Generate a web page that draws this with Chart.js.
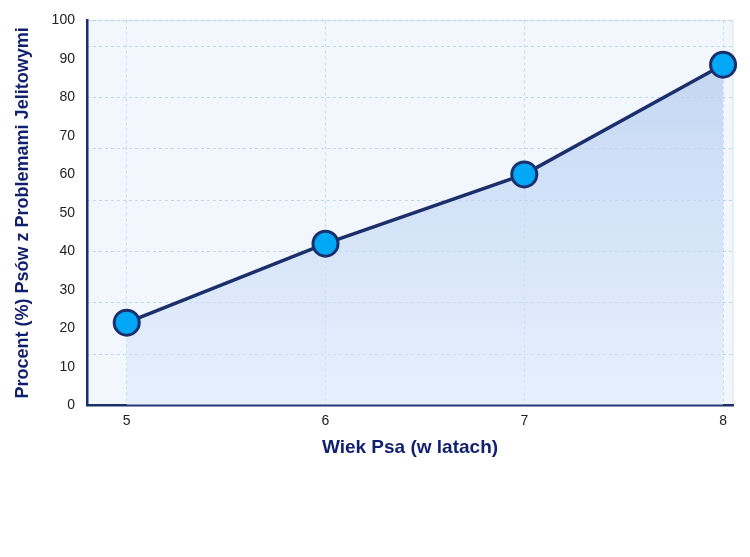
<!DOCTYPE html>
<html>
<head>
<meta charset="utf-8">
<script src="https://cdn.jsdelivr.net/npm/chart.js@4"></script>
<style>
  html, body { margin: 0; padding: 0; background: #fff; }
  #wrap { width: 750px; height: 557px; }
</style>
</head>
<body>
<div id="wrap"><canvas id="dogChart" width="750" height="557"></canvas></div>
<script>
// wiek psa (lata) i odsetek psów z problemami jelitowymi
const ages = [5, 6, 7, 8];
const percents = [21.5, 42, 60, 88.5];
const yTicks = [0, 10, 20, 30, 40, 50, 60, 70, 80, 90, 100];

const navy = '#1b2f6b';
const titleNavy = '#101f6e';

// tło obszaru wykresu
const plotBg = {
    id: 'plotBg',
    beforeDraw(chart) {
        const { ctx, chartArea: a } = chart;
        ctx.save();
        ctx.fillStyle = '#f2f7fe';
        ctx.fillRect(a.left, a.top, a.right - a.left, a.bottom - a.top);
        ctx.strokeStyle = '#e4ebee';
        ctx.lineWidth = 1.5;
        ctx.beginPath();
        ctx.moveTo(a.left, a.top);
        ctx.lineTo(a.right, a.top);
        ctx.lineTo(a.right, a.bottom);
        ctx.stroke();
        ctx.restore();
    }
};

const ctx = document.getElementById('dogChart').getContext('2d');
new Chart(ctx, {
    type: 'line',
    data: {
        datasets: [{
            data: ages.map((a, i) => ({ x: a, y: percents[i] })),
            borderColor: navy,
            borderWidth: 3.5,
            pointRadius: 12.5,
            pointBorderWidth: 3,
            pointBackgroundColor: '#00a8f5',
            pointBorderColor: navy,
            tension: 0,
            clip: false,
            fill: 'origin',
            backgroundColor: (context) => {
                const { ctx, chartArea } = context.chart;
                if (!chartArea) return 'rgba(190,212,240,0.6)';
                const g = ctx.createLinearGradient(0, chartArea.top, 0, chartArea.bottom);
                g.addColorStop(0, 'rgba(176,202,238,0.8)');
                g.addColorStop(1, 'rgba(220,233,252,0.55)');
                return g;
            }
        }]
    },
    options: {
        responsive: false,
        animation: false,
        layout: { padding: { top: 12, right: 17, bottom: 94, left: 8 } },
        plugins: {
            legend: { display: false },
            tooltip: { enabled: false }
        },
        scales: {
            x: {
                type: 'linear',
                min: 4.8,
                max: 8.05,
                afterBuildTicks: (axis) => { axis.ticks = ages.map(v => ({ value: v })); },
                ticks: {
                    color: '#222',
                    font: { family: 'Liberation Sans, Arial', size: 14 },
                    padding: 7
                },
                grid: {
                    color: 'rgba(170,196,228,0.55)',
                    lineWidth: 1,
                    drawTicks: false
                },
                border: { display: true, color: navy, width: 2.5, dash: [3, 3] },
                title: {
                    display: true,
                    text: 'Wiek Psa (w latach)',
                    color: titleNavy,
                    font: { family: 'Liberation Sans, Arial', size: 19, weight: 'bold' },
                    padding: { top: 0 }
                }
            },
            y: {
                type: 'linear',
                min: 0,
                max: 100,
                afterBuildTicks: (axis) => { axis.ticks = yTicks.map(v => ({ value: v })); },
                ticks: {
                    color: '#222',
                    font: { family: 'Liberation Sans, Arial', size: 14 },
                    padding: 12
                },
                grid: { display: false, drawTicks: false },
                border: { display: true, color: navy, width: 2.5 },
                title: {
                    display: true,
                    text: 'Procent (%) Psów z Problemami Jelitowymi',
                    color: titleNavy,
                    font: { family: 'Liberation Sans, Arial', size: 18, weight: 'bold' },
                    padding: { bottom: 6 }
                }
            },
            // osobna oś tylko dla poziomych linii siatki
            yGrid: {
                type: 'linear',
                position: 'right',
                min: 0,
                max: 100,
                ticks: { display: false, stepSize: 40 / 3 },
                grid: {
                    color: 'rgba(160,190,228,0.6)',
                    lineWidth: 1,
                    drawTicks: false
                },
                border: { display: false, dash: [3, 3] }
            }
        }
    },
    plugins: [plotBg]
});
</script>
</body>
</html>
